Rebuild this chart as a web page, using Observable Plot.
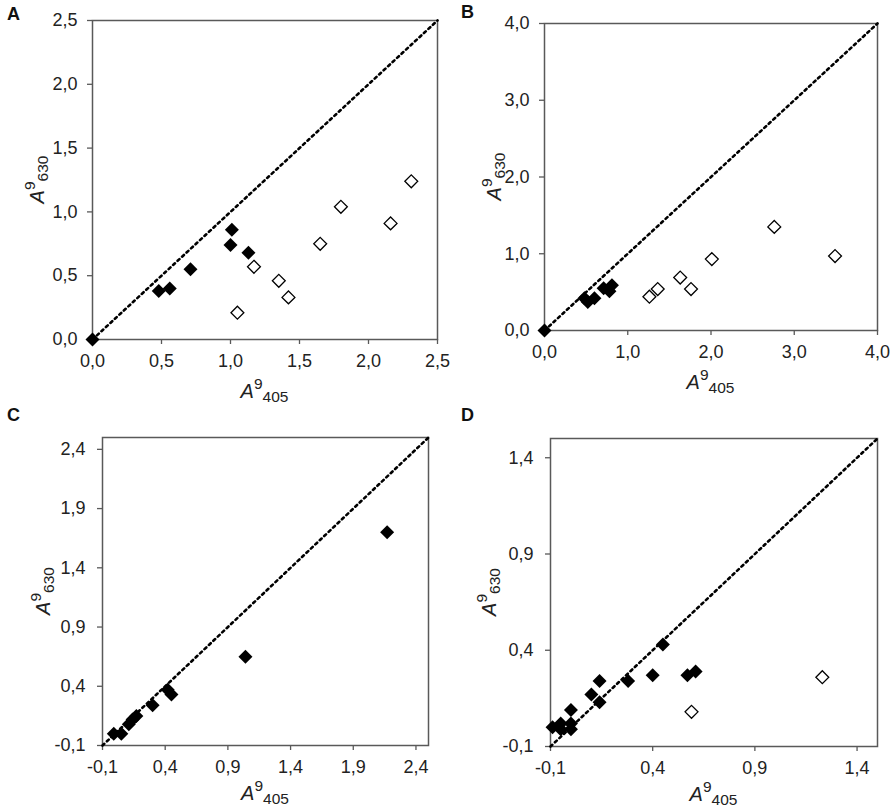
<!DOCTYPE html>
<html>
<head>
<meta charset="utf-8">
<script src="https://cdn.jsdelivr.net/npm/d3@7"></script>
<script src="https://cdn.jsdelivr.net/npm/@observablehq/plot@0.6"></script>
<style>
  html, body { margin: 0; padding: 0; background: #fff; }
  #wrap { position: relative; width: 892px; height: 811px; font-family: "Liberation Sans", Arial, sans-serif; }
  #wrap svg { position: absolute; overflow: visible; max-width: none !important; }
  .letter { position: absolute; font-weight: bold; font-size: 18px; color: #111; line-height: 1; }
</style>
</head>
<body>
<div id="wrap"></div>
<script>
// ---- Data ----
const ticksA = [0, 0.5, 1, 1.5, 2, 2.5];
const filledA = [[0, 0], [0.48, 0.38], [0.56, 0.40], [0.71, 0.55], [1.01, 0.86], [1.00, 0.74], [1.13, 0.68]];
const openA = [[1.17, 0.57], [1.05, 0.21], [1.35, 0.46], [1.42, 0.33], [1.65, 0.75], [1.80, 1.04], [2.16, 0.91], [2.31, 1.24]];

const ticksB = [0, 1, 2, 3, 4];
const filledB = [[0, 0], [0.48, 0.42], [0.52, 0.37], [0.60, 0.42], [0.71, 0.55], [0.78, 0.51], [0.81, 0.59]];
const openB = [[1.26, 0.44], [1.36, 0.54], [1.63, 0.69], [1.76, 0.54], [2.01, 0.93], [2.76, 1.35], [3.49, 0.97]];

const ticksC = [-0.1, 0.4, 0.9, 1.4, 1.9, 2.4];
const filledC = [[-0.01, 0.0], [0.05, 0.0], [0.11, 0.08], [0.14, 0.12], [0.17, 0.15], [0.30, 0.24], [0.42, 0.37], [0.45, 0.33], [1.04, 0.65], [2.17, 1.70]];
const openC = [];

const ticksD = [-0.1, 0.4, 0.9, 1.4];
const filledD = [[-0.09, 0.0], [-0.05, 0.02], [-0.05, -0.01], [0.0, 0.09], [0.0, 0.02], [0.0, -0.01], [0.10, 0.17], [0.14, 0.24], [0.14, 0.13], [0.28, 0.24], [0.40, 0.27], [0.45, 0.43], [0.57, 0.27], [0.61, 0.29]];
const openD = [[0.59, 0.08], [1.23, 0.26]];

const domainA = [0, 2.5], domainB = [0, 4], domainC = [-0.1, 2.5], domainD = [-0.1, 1.5];
const panelLetters = ["A", "B", "C", "D"];

// ---- Rendering ----
const fmt = d3.formatLocale({decimal: ",", thousands: ".", grouping: [3], currency: ["", ""], minus: "-"}).format(".1f");
const FONT = '"Liberation Sans", Arial, sans-serif';
const GRAY = "#595959";
const wrap = document.getElementById("wrap");

function panel(cfg) {
  const {left, top, width, height, m, domain, ticks, filled, open, ypad, xLabelDy, yLabelX} = cfg;
  const diag = [[domain[0], domain[0]], [domain[1], domain[1]]];
  const svg = Plot.plot({
    width, height,
    marginLeft: m[0], marginRight: m[1], marginTop: m[2], marginBottom: m[3],
    style: {fontFamily: FONT, fontSize: "18px", color: "#222", background: "transparent", overflow: "visible"},
    x: {domain, label: null},
    y: {domain, label: null},
    marks: [
      Plot.frame({stroke: GRAY, strokeWidth: 1.5}),
      Plot.axisX({ticks, tickFormat: fmt, tickSize: 5, tickPadding: 10, stroke: GRAY, strokeWidth: 1.3, fill: "#222", fontSize: 18, label: null}),
      Plot.axisY({ticks, tickFormat: fmt, tickSize: 5, tickPadding: ypad, stroke: GRAY, strokeWidth: 1.3, fill: "#222", fontSize: 18, label: null}),
      Plot.line(diag, {x: d => d[0], y: d => d[1], stroke: "#000", strokeWidth: 2.6, strokeDasharray: "2.5 3.6"}),
      Plot.dot(open, {x: d => d[0], y: d => d[1], symbol: "diamond2", r: 5.8, fill: "#fff", stroke: "#000", strokeWidth: 1.3}),
      Plot.dot(filled, {x: d => d[0], y: d => d[1], symbol: "diamond2", r: 6.3, fill: "#000", stroke: "none"})
    ]
  });
  svg.style.left = left + "px";
  svg.style.top = top + "px";
  wrap.appendChild(svg);

  const s = d3.select(svg);
  const cx = m[0] + (width - m[0] - m[1]) / 2;
  const cy = m[2] + (height - m[2] - m[3]) / 2;
  const bottom = height - m[3];
  function label(g, sub) {
    const t = g.append("text").attr("text-anchor", "middle").style("fill", "#222")
      .style("font-family", FONT);
    t.append("tspan").style("font-style", "italic").style("font-size", "20px").text("A");
    t.append("tspan").style("font-size", "15.5px").attr("dy", -9).text("9");
    t.append("tspan").style("font-size", "15.5px").attr("dy", 12.5).text(sub);
  }
  label(s.append("g").attr("transform", `translate(${cx},${bottom + xLabelDy})`), "405");
  label(s.append("g").attr("transform", `translate(${yLabelX},${cy}) rotate(-90)`), "630");
}

panel({left: 0, top: 0, width: 446, height: 400, m: [92, 9, 20, 61], domain: domainA, ticks: ticksA, filled: filledA, open: openA, ypad: 10, xLabelDy: 59, yLabelX: 44});
panel({left: 446, top: 0, width: 446, height: 400, m: [98, 15, 23, 70], domain: domainB, ticks: ticksB, filled: filledB, open: openB, ypad: 10, xLabelDy: 59, yLabelX: 55});
panel({left: 0, top: 400, width: 446, height: 411, m: [102, 18, 37, 66], domain: domainC, ticks: ticksC, filled: filledC, open: openC, ypad: 12, xLabelDy: 55, yLabelX: 50});
panel({left: 446, top: 400, width: 446, height: 411, m: [104, 15, 38, 65], domain: domainD, ticks: ticksD, filled: filledD, open: openD, ypad: 12, xLabelDy: 55, yLabelX: 50});

const letterPos = [[7, 5], [461, 3], [7, 406], [461, 406]];
panelLetters.forEach((L, i) => {
  const d = document.createElement("div");
  d.className = "letter";
  d.textContent = L;
  d.style.left = letterPos[i][0] + "px";
  d.style.top = letterPos[i][1] + "px";
  wrap.appendChild(d);
});
</script>
</body>
</html>
